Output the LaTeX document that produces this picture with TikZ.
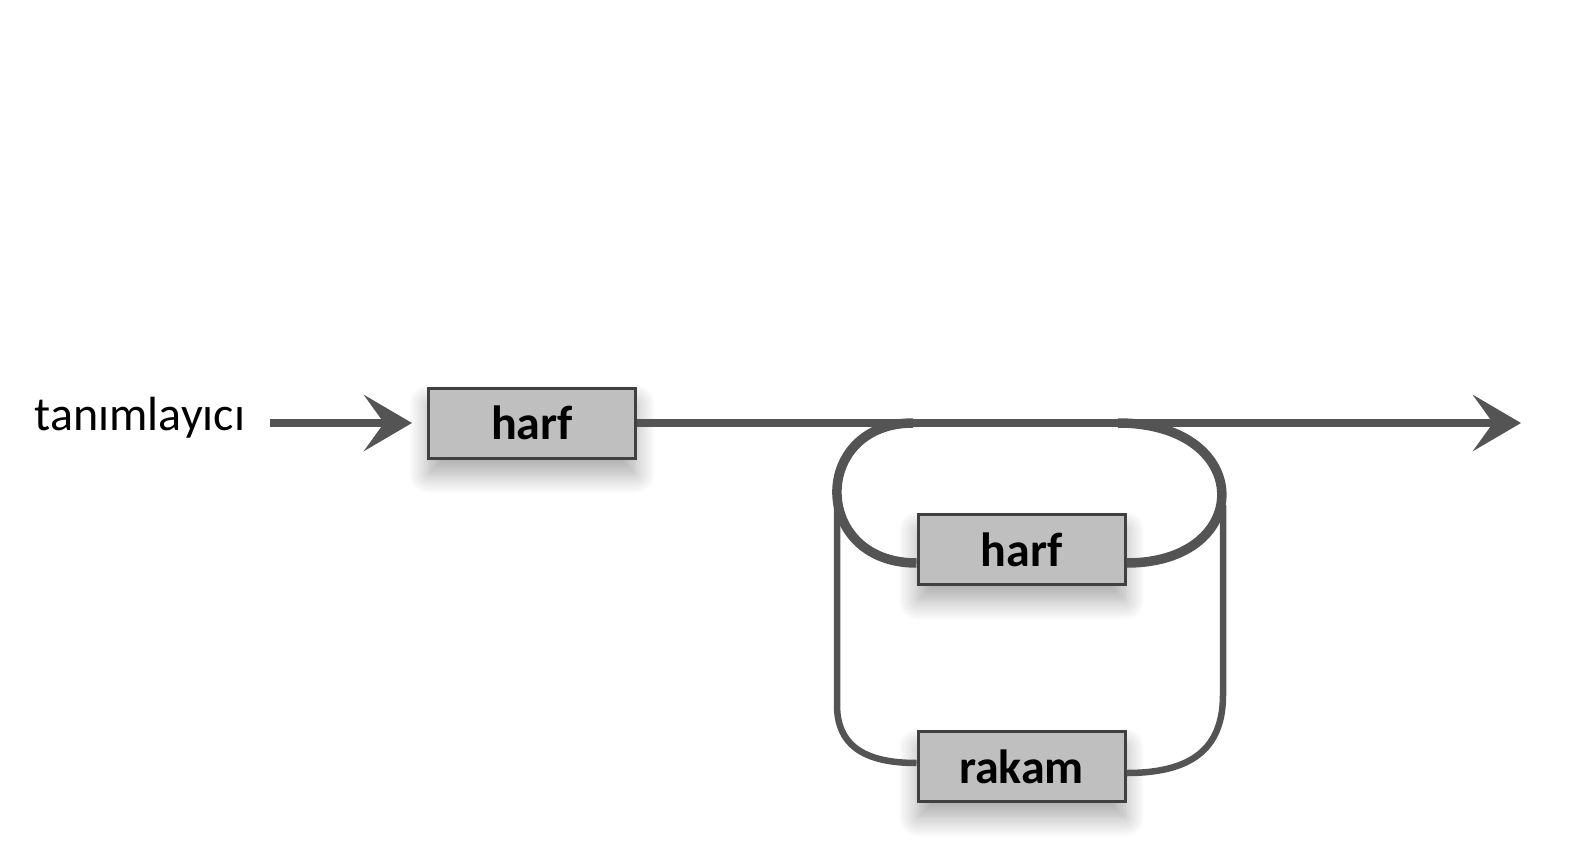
\documentclass[tikz,border=0pt]{standalone}
\usepackage{fontspec}
\setmainfont{Carlito}
\usetikzlibrary{arrows.meta,shadows.blur}

\begin{document}
\begin{tikzpicture}[
    x=1pt, y=-1pt,
    >={Stealth[length=48pt, width=56pt, inset=20pt]},
    term/.style={draw=black!75, line width=3pt, fill=black!25, minimum width=207pt, minimum height=70pt,
        inner sep=0pt, font=\fontsize{48}{56}\selectfont\bfseries,
        blur shadow={shadow xshift=0pt, shadow yshift=-16pt, shadow blur radius=20pt, shadow blur steps=16, shadow opacity=35}},
    rail/.style={draw=black!67, line width=8pt},
    sideline/.style={draw=black!67, line width=6.5pt},
    arcline/.style={draw=black!67, line width=9.5pt}
]
\useasboundingbox (0,0) rectangle (1582,848);

% Label and boxes
\node[font=\fontsize{48}{56}\selectfont] (name) at (140,418) {tanımlayıcı};
\node[term] (harfA) at (532,423) {harf};
\node[term] (harfB) at (1021.5,549.5) {harf};
\node[term] (rakam) at (1021.5,766.5) {rakam};

% Rail points
\coordinate (start) at (270,423);
\coordinate (splitL) at (913,423);
\coordinate (splitR) at (1118,423);
\coordinate (end) at (1521,423);
\coordinate (downL) at (837,503);
\coordinate (downR) at (1223,505);

% Main rail
\draw[rail, ->, shorten >=15pt] (start) -- (harfA.west);
\draw[rail, ->] (harfA.east) -- (end);

% Loop
\draw[arcline] (splitL) .. controls (811,423) and (811,563) .. (harfB.west |- 0,563);
\draw[arcline] (splitR) .. controls (1255,423) and (1255,563) .. (harfB.east |- 0,563);
\draw[sideline] (downL) -- (837,705) .. controls (837,748) and (868,763) .. (rakam.west |- 0,763);
\draw[sideline] (downR) -- (1223,695) .. controls (1223,750) and (1190,773) .. (rakam.east |- 0,773);

\end{tikzpicture}
\end{document}
